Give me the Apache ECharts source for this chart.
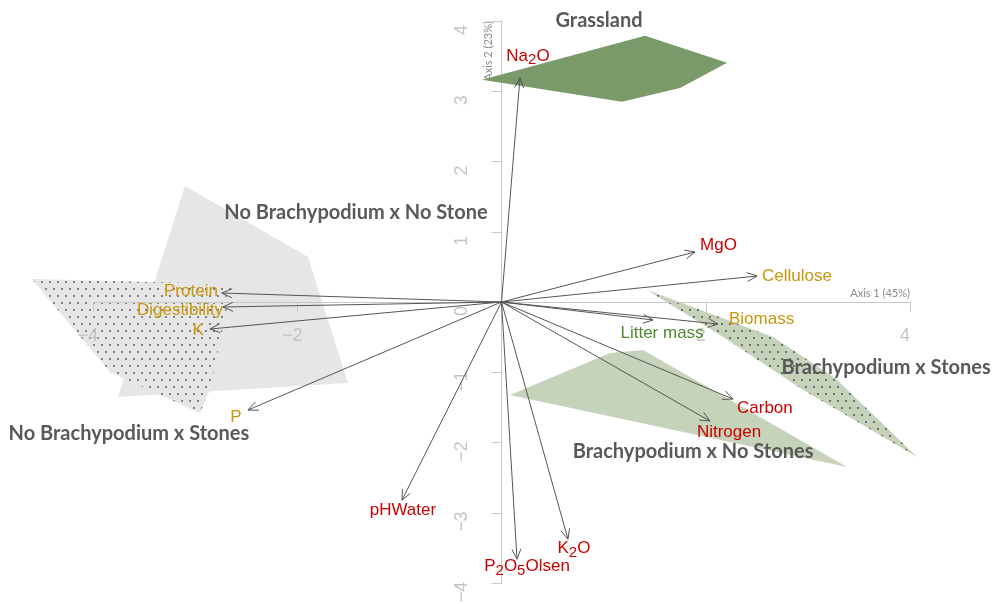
<!DOCTYPE html>
<html>
<head>
<meta charset="utf-8">
<script src="https://cdn.jsdelivr.net/npm/echarts@6/dist/echarts.min.js"></script>
<style>
  html, body { margin: 0; padding: 0; background: #fff; }
  #chart { width: 992px; height: 604px; }
</style>
</head>
<body>
<div id="chart"></div>
<script>
// variable loadings (arrow tips)
const variables = ['Na2O', 'MgO', 'Cellulose', 'Biomass', 'Litter mass', 'Carbon', 'Nitrogen',
  'K2O', 'P2O5Olsen', 'pHWater', 'P', 'K', 'Digestibility', 'Protein'];
const axis1 = [0.181, 1.895, 2.502, 2.120, 1.484, 2.267, 2.042, 0.651, 0.152, -0.975, -2.483, -2.855, -2.728, -2.738];
const axis2 = [3.191, 0.712, 0.370, -0.313, -0.256, -1.382, -1.695, -3.376, -3.661, -2.821, -1.538, -0.385, -0.071, 0.128];
const varKind = ['soil', 'soil', 'forage', 'forage', 'litter', 'soil', 'soil', 'soil', 'soil', 'soil', 'forage', 'forage', 'forage', 'forage'];

// convex hulls of the treatment groups
const groups = ['No Brachypodium x No Stone', 'No Brachypodium x Stones', 'Grassland', 'Brachypodium x Stones', 'Brachypodium x No Stones'];
const hullNoBrachyNoStone = [[-3.100, 1.652], [-1.895, 0.641], [-1.503, -1.154], [-3.756, -1.353]];
const hullNoBrachyStones = [[-4.598, 0.328], [-2.640, 0.256], [-2.855, -1.254], [-2.953, -1.581], [-3.834, -0.997]];
const hullGrassland = [[-0.191, 3.162], [1.405, 3.789], [2.209, 3.405], [1.748, 3.048], [1.180, 2.849]];
const hullBrachyStones = [[1.425, 0.171], [2.659, -0.499], [3.266, -1.083], [4.070, -2.208], [2.924, -1.225], [2.140, -0.470]];
const hullBrachyNoStones = [[0.083, -1.325], [1.063, -0.726], [1.386, -0.684], [3.384, -2.350]];
const hulls = [hullNoBrachyNoStone, hullNoBrachyStones, hullGrassland, hullBrachyStones, hullBrachyNoStones];

// where the group names sit
const groupLabelX = [-1.425, -3.648, 0.955, 3.766, 1.876];
const groupLabelY = [1.268, -1.866, 4.003, -0.940, -2.123];

const kindColor = { soil: '#cc0000', forage: '#c8960c', litter: '#4f8a2f' };
// label placement next to the arrow tip: [align, dx, dy]
const labelPlace = {
  'Na2O': ['center', 8, -22], 'MgO': ['left', 5, -7], 'Cellulose': ['left', 5, 0],
  'Biomass': ['left', 11, -5], 'Litter mass': ['center', 9, 13], 'Carbon': ['left', 4, 9],
  'Nitrogen': ['center', 19, 11], 'K2O': ['center', 6, 9], 'P2O5Olsen': ['center', 10, 7],
  'pHWater': ['center', 1, 10], 'P': ['center', -12, 7], 'K': ['right', -6, 1],
  'Digestibility': ['right', 0, 3], 'Protein': ['right', -4, -2]
};
const richName = {
  'Na2O': '{n|Na}{s|2}{n|O}', 'K2O': '{n|K}{s|2}{n|O}', 'P2O5Olsen': '{n|P}{s|2}{n|O}{s|5}{n|Olsen}'
};

function dotPattern(bg, dot) {
  const c = document.createElement('canvas');
  c.width = 8; c.height = 14;
  const g = c.getContext('2d');
  g.fillStyle = bg; g.fillRect(0, 0, 8, 14);
  g.fillStyle = dot;
  g.beginPath(); g.arc(2, 2, 0.9, 0, Math.PI * 2); g.fill();
  g.beginPath(); g.arc(6, 9, 0.9, 0, Math.PI * 2); g.fill();
  return { image: c, repeat: 'repeat' };
}

const hullFill = [
  '#e6e6e6',
  dotPattern('#e6e6e6', '#555'),
  '#7b9a6a',
  dotPattern('#c5d3bb', '#444'),
  '#c5d3bb'
];

const chart = echarts.init(document.getElementById('chart'));

const tickLabelColor = '#c4c4c4';
const axisColor = '#c8c8c8';
const gridBox = { left: 93, right: 82, top: 21, bottom: 21 };
const gridW = 992 - gridBox.left - gridBox.right;
const gridH = 604 - gridBox.top - gridBox.bottom;

chart.setOption({
  animation: false,
  grid: Object.assign({ outerBoundsMode: 'none', containLabel: false }, gridBox),
  xAxis: {
    type: 'value', min: -4, max: 4, interval: 2, z: 3,
    position: 'bottom', offset: -gridH / 2,
    axisLine: { onZero: false, lineStyle: { color: axisColor } },
    axisTick: { show: true, length: 10, lineStyle: { color: axisColor } },
    splitLine: { show: false },
    axisLabel: {
      color: tickLabelColor, fontSize: 18, fontFamily: 'Liberation Sans', margin: 25,
      padding: [0, 10, 0, 0],
      formatter: v => v === 0 ? '' : String(v).replace('-', '\u2212')
    },
    name: 'Axis 1 (45%)', nameLocation: 'end', nameGap: 0,
    nameTextStyle: { color: '#8a8a8a', fontSize: 11, fontFamily: 'Lato', align: 'right', verticalAlign: 'bottom', padding: [0, 0, 3, 0] }
  },
  yAxis: {
    type: 'value', min: -4, max: 4, interval: 1, z: 1,
    position: 'left', offset: -gridW / 2,
    axisLine: { onZero: false, lineStyle: { color: axisColor } },
    axisTick: { show: true, length: 10, lineStyle: { color: axisColor } },
    splitLine: { show: false },
    axisLabel: {
      color: tickLabelColor, fontSize: 18, fontFamily: 'Liberation Sans', margin: 30, rotate: 90,
      padding: [0, 18, 0, 0],
      formatter: v => String(v).replace('-', '\u2212')
    },
    name: 'Axis 2 (23%)', nameLocation: 'end', nameGap: 0, nameRotate: 90,
    nameTextStyle: { color: '#8a8a8a', fontSize: 11, fontFamily: 'Lato', align: 'right', verticalAlign: 'bottom', padding: [0, 0, 8, 0] }
  },
  series: [
    {
      type: 'custom',
      z: 2,
      data: groups.map((g, i) => i),
      renderItem: (params, api) => {
        const i = params.dataIndex;
        return {
          type: 'polygon',
          shape: { points: hulls[i].map(p => api.coord(p)) },
          style: { fill: hullFill[i] }
        };
      }
    },
    {
      type: 'custom',
      z: 4,
      data: groups.map((g, i) => [groupLabelX[i], groupLabelY[i]]),
      renderItem: (params, api) => {
        const p = api.coord([api.value(0), api.value(1)]);
        return {
          type: 'text', x: p[0], y: p[1],
          style: {
            text: groups[params.dataIndex], fill: '#595959', fontSize: 20, fontWeight: 'bold',
            fontFamily: 'Lato', align: 'center', verticalAlign: 'middle'
          }
        };
      }
    },
    {
      type: 'custom',
      z: 5,
      data: variables.map((v, i) => [axis1[i], axis2[i]]),
      renderItem: (params, api) => {
        const i = params.dataIndex;
        const o = api.coord([0, 0]);
        const t = api.coord([api.value(0), api.value(1)]);
        const ang = Math.atan2(t[1] - o[1], t[0] - o[0]);
        const L = 11, A = 0.42;
        const h1 = [t[0] - L * Math.cos(ang - A), t[1] - L * Math.sin(ang - A)];
        const h2 = [t[0] - L * Math.cos(ang + A), t[1] - L * Math.sin(ang + A)];
        const name = variables[i];
        const pl = labelPlace[name];
        const col = kindColor[varKind[i]];
        return {
          type: 'group',
          children: [
            { type: 'line', shape: { x1: o[0], y1: o[1], x2: t[0], y2: t[1] }, style: { stroke: '#555', lineWidth: 1 } },
            { type: 'polyline', shape: { points: [h1, t, h2] }, style: { stroke: '#555', lineWidth: 1, fill: 'none' } },
            {
              type: 'text', x: t[0] + pl[1], y: t[1] + pl[2],
              style: {
                text: richName[name] || name, fill: col, fontSize: 17, fontFamily: 'Liberation Sans',
                align: pl[0], verticalAlign: 'middle',
                rich: {
                  n: { fill: col, fontSize: 17, fontFamily: 'Liberation Sans', lineHeight: 22, verticalAlign: 'middle' },
                  s: { fill: col, fontSize: 15, fontFamily: 'Liberation Sans', lineHeight: 22, padding: [9, 0, 0, 0], verticalAlign: 'middle' }
                }
              }
            }
          ]
        };
      }
    }
  ]
});
</script>
</body>
</html>
